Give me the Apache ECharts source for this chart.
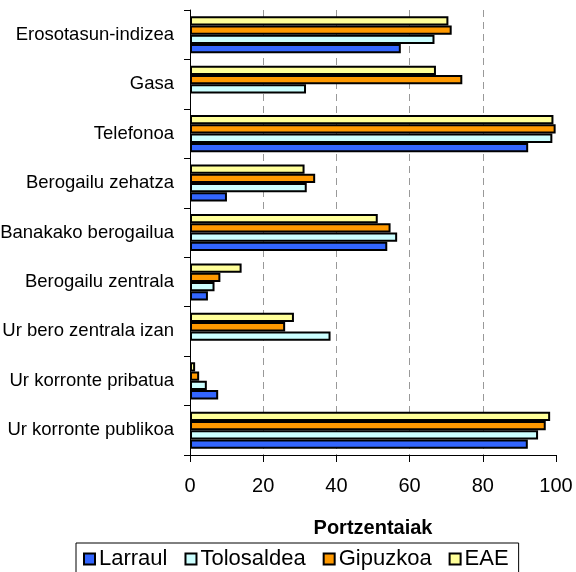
<!DOCTYPE html>
<html>
<head>
<meta charset="utf-8">
<script src="https://cdn.jsdelivr.net/npm/echarts@6/dist/echarts.min.js"></script>
<style>
  html, body { margin: 0; padding: 0; background: #fff; }
  #chart { width: 576px; height: 572px; }
</style>
</head>
<body>
<div id="chart"></div>
<script>
// kategoriak, behetik gora (y ardatza behetik hasten da)
var categories = ['Ur korronte publikoa', 'Ur korronte pribatua', 'Ur bero zentrala izan',
    'Berogailu zentrala', 'Banakako berogailua', 'Berogailu zehatza',
    'Telefonoa', 'Gasa', 'Erosotasun-indizea'];

var seriesNames = ['Larraul', 'Tolosaldea', 'Gipuzkoa', 'EAE'];
var larraul    = [92.3, 7.7, null, 4.9, 53.9, 10.1, 92.4, null, 57.6];
var tolosaldea = [95.1, 4.6, 38.4, 6.7, 56.6, 31.9, 99.0, 31.7, 66.8];
var gipuzkoa   = [97.2, 2.5, 26.0, 8.3, 54.8, 34.2, 99.9, 74.4, 71.5];
var eae        = [98.4, 1.4, 28.4, 14.1, 51.3, 31.3, 99.3, 67.2, 70.6];
var xTicks = [0, 20, 40, 60, 80, 100];

var colors = ['#3366ff', '#ccffff', '#ff9900', '#ffff99'];
var values = [larraul, tolosaldea, gipuzkoa, eae];
var font = 'Liberation Sans, Arial, sans-serif';

// lehen seriea goian marrazten da, beraz alderantziz gehitu (Larraul behean)
var series = [];
for (var i = seriesNames.length - 1; i >= 0; i--) {
    series.push({
        name: seriesNames[i],
        type: 'bar',
        data: values[i],
        barGap: '0%',
        barCategoryGap: '25%',
        itemStyle: { color: colors[i], borderColor: '#000', borderWidth: 2 }
    });
}

var chart = echarts.init(document.getElementById('chart'));
chart.setOption({
    animation: false,
    grid: { left: 190, right: 20, top: 10, bottom: 117, containLabel: false, outerBoundsMode: 'none' },
    legend: {
        data: seriesNames,
        left: 76,
        top: 543,
        padding: [5, 10, 6, 7],
        itemGap: 17,
        itemWidth: 11,
        itemHeight: 11,
        icon: 'rect',
        borderColor: '#000',
        borderWidth: 1,
        itemStyle: { borderColor: '#000', borderWidth: 2 },
        textStyle: { fontFamily: font, fontSize: 22, color: '#000', padding: [0, 0, 0, -1] }
    },
    xAxis: {
        type: 'value',
        min: xTicks[0],
        max: xTicks[xTicks.length - 1],
        interval: 20,
        name: 'Portzentaiak',
        nameLocation: 'middle',
        nameGap: 63,
        nameTextStyle: { fontFamily: font, fontSize: 20, fontWeight: 'bold', color: '#000' },
        axisLine: { show: true, lineStyle: { color: '#000', width: 1 } },
        axisTick: { show: true, length: 7, lineStyle: { color: '#000' } },
        axisLabel: { fontFamily: font, fontSize: 20, color: '#000', margin: 21 },
        splitLine: {
            show: true,
            showMinLine: false,
            showMaxLine: false,
            lineStyle: { color: '#999', type: [7, 5], width: 1 }
        }
    },
    yAxis: {
        type: 'category',
        data: categories,
        axisLine: { show: true, lineStyle: { color: '#000', width: 1 } },
        axisTick: { show: true, length: 6, lineStyle: { color: '#000' } },
        axisLabel: { fontFamily: font, fontSize: 18.5, color: '#000', margin: 16 },
        splitLine: { show: false }
    },
    series: series
});
</script>
</body>
</html>
